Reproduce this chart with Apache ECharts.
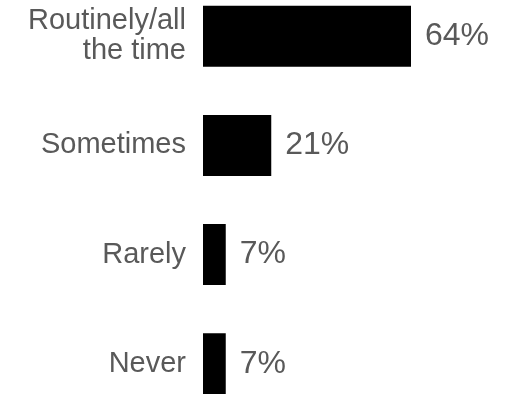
<!DOCTYPE html>
<html>
<head>
<meta charset="utf-8">
<script src="https://cdn.jsdelivr.net/npm/echarts@6/dist/echarts.min.js"></script>
<style>
html,body{margin:0;padding:0;background:#fff;}
#chart{width:519px;height:394px;}
</style>
</head>
<body>
<div id="chart"></div>
<script>
var categories = ['Routinely/all\nthe time', 'Sometimes', 'Rarely', 'Never'];
var values = [64, 21, 7, 7];

var chart = echarts.init(document.getElementById('chart'), null, {renderer: 'canvas'});
chart.setOption({
  animation: false,
  backgroundColor: '#ffffff',
  grid: {left: 203, width: 325, top: -18.3, height: 436.6, containLabel: false, outerBoundsMode: 'none'},
  xAxis: {
    type: 'value', min: 0, max: 100, show: false
  },
  yAxis: {
    type: 'category', data: categories, inverse: true,
    axisLine: {show: false}, axisTick: {show: false}, splitLine: {show: false},
    axisLabel: {
      margin: 17, color: '#595959', fontSize: 29, lineHeight: 30,
      fontFamily: 'Liberation Sans, Arial, sans-serif', align: 'right'
    }
  },
  series: [{
    type: 'bar', data: values, barWidth: 61,
    itemStyle: {color: '#000000'},
    label: {
      show: true, position: 'right', distance: 14,
      formatter: '{c}%', color: '#595959', fontSize: 32,
      fontFamily: 'Liberation Sans, Arial, sans-serif'
    }
  }]
});
</script>
</body>
</html>
